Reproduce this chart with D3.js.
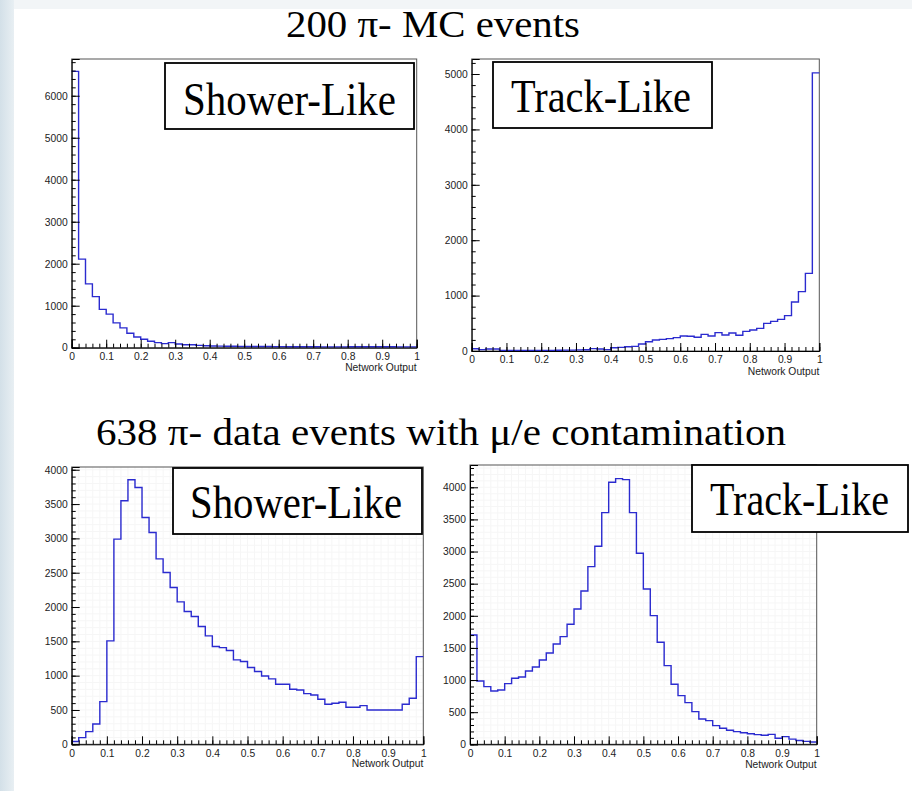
<!DOCTYPE html>
<html><head><meta charset="utf-8">
<script src="https://cdn.jsdelivr.net/npm/d3@7"></script>
<style>
body{margin:0;background:#fff}
svg{display:block}
.tick text{font-family:"Liberation Sans",Arial,Helvetica,sans-serif;font-size:10.3px;fill:#222}
.tick line{stroke:#000;stroke-width:1}
.domain{stroke:#000;stroke-width:1}
</style></head>
<body>
<svg id="chart" width="912" height="791"></svg>
<script>
// ---------- data (bin width 0.02, 50 bins from 0 to 1) ----------
const binWidth = 0.02;
const mcShowerCounts = [6580, 2110, 1520, 1216, 912, 800, 592, 472, 344, 256,
  200, 152, 120, 96, 120, 88, 72, 72, 56, 48,
  40, 38, 36, 34, 32, 30, 30, 28, 28, 26,
  26, 24, 24, 22, 22, 22, 20, 20, 20, 20,
  22, 22, 24, 24, 24, 22, 22, 20, 20, 20];
const mcTrackCounts = [40, 25, 35, 35, 10, 8, 8, 8, 10, 10,
  12, 12, 14, 15, 16, 20, 22, 42, 36, 25,
  60, 66, 78, 84, 126, 168, 199, 210, 223, 241,
  271, 265, 247, 301, 271, 331, 289, 325, 283, 355,
  379, 409, 499, 535, 571, 638, 884, 1071, 1402, 5020];
const dataShowerCounts = [40, 97, 185, 296, 622, 1507, 2989, 3548, 3854, 3742,
  3305, 3086, 2702, 2503, 2284, 2075, 1934, 1861, 1716, 1580,
  1424, 1409, 1366, 1230, 1206, 1118, 1060, 996, 953, 875,
  875, 802, 792, 739, 719, 656, 583, 598, 612, 540,
  540, 564, 500, 500, 500, 500, 500, 583, 671, 1278];
const dataTrackCounts = [1702, 986, 898, 830, 846, 944, 1027, 1048, 1141, 1204,
  1313, 1422, 1562, 1676, 1868, 2106, 2386, 2765, 3082, 3606,
  4078, 4135, 4119, 3606, 2973, 2418, 2003, 1588, 1224, 934,
  757, 648, 508, 394, 368, 291, 249, 218, 197, 180,
  165, 150, 140, 155, 95, 120, 80, 60, 45, 35];

const xTicks = [0, 0.1, 0.2, 0.3, 0.4, 0.5, 0.6, 0.7, 0.8, 0.9, 1];
const xTickLabels = ["0", "0.1", "0.2", "0.3", "0.4", "0.5", "0.6", "0.7", "0.8", "0.9", "1"];
const mcShowerYTicks = [0, 1000, 2000, 3000, 4000, 5000, 6000];
const mcTrackYTicks = [0, 1000, 2000, 3000, 4000, 5000];
const dataShowerYTicks = [0, 500, 1000, 1500, 2000, 2500, 3000, 3500, 4000];
const dataTrackYTicks = [0, 500, 1000, 1500, 2000, 2500, 3000, 3500, 4000];

const xAxisTitle = "Network Output";
const topTitle = "200 \u03c0- MC events";
const bottomTitle = "638 \u03c0- data events with \u03bc/e contamination";
const panelLabels = ["Shower-Like", "Track-Like", "Shower-Like", "Track-Like"];

// ---------- layout ----------
const panels = [
  {counts: mcShowerCounts, yTicks: mcShowerYTicks, yMax: 6875, yMinor: 200,
   x0: 71.7, x1: 416.7, y0: 59, y1: 347.7, grid: false, titleY: 371,
   box: {x: 165, y: 63, w: 249, h: 66}, lab: {x: 183, y: 115, w: 213}},
  {counts: mcTrackCounts, yTicks: mcTrackYTicks, yMax: 5271, yMinor: 200,
   x0: 471.7, x1: 819.3, y0: 59, y1: 351, grid: false, titleY: 375,
   box: {x: 493, y: 62, w: 219, h: 66}, lab: {x: 511, y: 112, w: 180}},
  {counts: dataShowerCounts, yTicks: dataShowerYTicks, yMax: 4040, yMinor: 100,
   x0: 71.7, x1: 423.3, y0: 467, y1: 744.3, grid: true, titleY: 767,
   box: {x: 173, y: 468, w: 249, h: 66}, lab: {x: 190, y: 518, w: 212}},
  {counts: dataTrackCounts, yTicks: dataTrackYTicks, yMax: 4347, yMinor: 100,
   x0: 470, x1: 816.7, y0: 465, y1: 744.3, grid: true, titleY: 768,
   box: {x: 692, y: 465, w: 216, h: 67}, lab: {x: 710, y: 515, w: 179}}
];

const svg = d3.select("#chart");

// background
const defs = svg.append("defs");
const grad = defs.append("linearGradient").attr("id", "side").attr("x1", 0).attr("x2", 1);
grad.append("stop").attr("offset", 0).attr("stop-color", "#d3e0e8");
grad.append("stop").attr("offset", 1).attr("stop-color", "#e8eff3");
svg.append("rect").attr("width", 912).attr("height", 791).attr("fill", "#fff");
svg.append("rect").attr("x", 0).attr("y", 0).attr("width", 912).attr("height", 9).attr("fill", "#f2f5f7");
svg.append("rect").attr("x", 0).attr("y", 0).attr("width", 14).attr("height", 791).attr("fill", "url(#side)");

const serif = '"Liberation Serif","Times New Roman",Times,serif';
const sans = '"Liberation Sans",Arial,Helvetica,sans-serif';

// titles
svg.append("text").attr("x", 286).attr("y", 37).attr("font-family", serif).attr("font-size", 37)
  .attr("textLength", 294).attr("lengthAdjust", "spacingAndGlyphs").attr("fill", "#000").text(topTitle);
svg.append("text").attr("x", 96).attr("y", 445).attr("font-family", serif).attr("font-size", 38)
  .attr("textLength", 690).attr("lengthAdjust", "spacingAndGlyphs").attr("fill", "#000").text(bottomTitle);

const xMinorTicks = d3.range(0, 1.0001, binWidth);

panels.forEach((p, idx) => {
  const g = svg.append("g");
  const x = d3.scaleLinear().domain([0, 1]).range([p.x0, p.x1]);
  const y = d3.scaleLinear().domain([0, p.yMax]).range([p.y1, p.y0]);
  const yMinorTicks = d3.range(0, p.yMax, p.yMinor);

  if (p.grid) {
    g.append("g").selectAll("line.gx").data(xMinorTicks).join("line")
      .attr("x1", d => x(d)).attr("x2", d => x(d)).attr("y1", p.y0).attr("y2", p.y1)
      .attr("stroke", "#f6f6f6").attr("stroke-width", 1);
    g.append("g").selectAll("line.gy").data(yMinorTicks).join("line")
      .attr("x1", p.x0).attr("x2", p.x1).attr("y1", d => y(d)).attr("y2", d => y(d))
      .attr("stroke", "#f6f6f6").attr("stroke-width", 1);
  }

  // frame
  g.append("rect").attr("x", p.x0).attr("y", p.y0).attr("width", p.x1 - p.x0).attr("height", p.y1 - p.y0)
    .attr("fill", "none").attr("stroke", "#555").attr("stroke-width", 1);

  // histogram
  const pts = p.counts.map((c, i) => [i * binWidth, c]);
  pts.push([1, p.counts[p.counts.length - 1]]);
  const line = d3.line().x(d => x(d[0])).y(d => y(d[1])).curve(d3.curveStepAfter);
  g.append("path").datum(pts).attr("d", line).attr("fill", "none")
    .attr("stroke", "#2b2bcf").attr("stroke-width", 1.4);

  // y axis minor + major
  g.append("g").attr("transform", `translate(${p.x0},0)`)
    .call(d3.axisLeft(y).tickValues(yMinorTicks).tickSize(-4).tickFormat(""))
    .call(s => s.select(".domain").remove());
  g.append("g").attr("transform", `translate(${p.x0},0)`)
    .call(d3.axisLeft(y).tickValues(p.yTicks).tickSize(-8).tickPadding(4).tickFormat(d3.format("d")));

  // x axis minor + major
  g.append("g").attr("transform", `translate(0,${p.y1})`)
    .call(d3.axisBottom(x).tickValues(xMinorTicks).tickSize(-4).tickFormat(""))
    .call(s => s.select(".domain").remove());
  g.append("g").attr("transform", `translate(0,${p.y1})`)
    .call(d3.axisBottom(x).tickValues(xTicks).tickSize(-8).tickPadding(5)
      .tickFormat((d, i) => xTickLabels[i]));

  // axis title
  g.append("text").attr("x", p.x1).attr("y", p.titleY).attr("text-anchor", "end")
    .attr("font-family", sans).attr("font-size", 10.3).attr("fill", "#222").text(xAxisTitle);

  // label box
  g.append("rect").attr("x", p.box.x).attr("y", p.box.y).attr("width", p.box.w).attr("height", p.box.h)
    .attr("fill", "#fff").attr("stroke", "#000").attr("stroke-width", 1.8);
  g.append("text").attr("x", p.lab.x).attr("y", p.lab.y).attr("font-family", serif).attr("font-size", 47)
    .attr("textLength", p.lab.w).attr("lengthAdjust", "spacingAndGlyphs").attr("fill", "#000")
    .text(panelLabels[idx]);
});
</script>
</body></html>
